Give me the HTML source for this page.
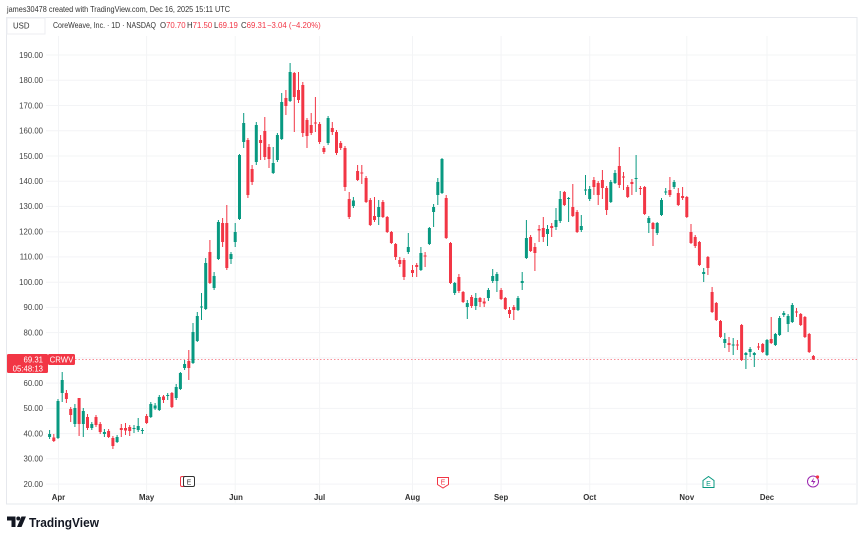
<!DOCTYPE html>
<html><head><meta charset="utf-8"><style>
html,body{margin:0;padding:0;background:#fff;}
svg{display:block;font-family:"Liberation Sans",sans-serif;}
</style></head><body>
<svg width="863" height="540" viewBox="0 0 863 540" xmlns="http://www.w3.org/2000/svg">
<rect width="863" height="540" fill="#fff"/>
<text x="7" y="12" font-size="8.2" fill="#333" textLength="223" lengthAdjust="spacingAndGlyphs">james30478 created with TradingView.com, Dec 16, 2025 15:11 UTC</text>
<rect x="6.5" y="17.5" width="850.5" height="486.5" fill="none" stroke="#e6e8ed" stroke-width="1"/>
<g stroke="#f3f4f6" stroke-width="1">
<path d="M46 55H857M46 80.2H857M46 105.5H857M46 130.7H857M46 156H857M46 181.2H857M46 206.4H857M46 231.7H857M46 256.9H857M46 282.2H857M46 307.4H857M46 332.6H857M46 357.9H857M46 383.1H857M46 408.4H857M46 433.6H857M46 458.8H857M46 484.1H857"/>
<path d="M58.5 36V504M146.6 36V504M235.2 36V504M319.6 36V504M412.5 36V504M501.1 36V504M589.7 36V504M686.8 36V504M767 36V504"/>
</g>
<rect x="7" y="18" width="38" height="16" fill="#fff" stroke="#eceef2"/>
<text x="13" y="28.5" font-size="7.8" fill="#333">USD</text>
<text x="53" y="28" font-size="7.8" fill="#333" textLength="103" lengthAdjust="spacingAndGlyphs">CoreWeave, Inc. · 1D · NASDAQ</text>
<g font-size="7.8">
<text x="160" y="28" fill="#333">O<tspan fill="#f23645">70.70</tspan></text>
<text x="187" y="28" fill="#333">H<tspan fill="#f23645">71.50</tspan></text>
<text x="214" y="28" fill="#333">L<tspan fill="#f23645">69.19</tspan></text>
<text x="241" y="28" fill="#333">C<tspan fill="#f23645">69.31</tspan></text>
<text x="267" y="28" fill="#f23645">−3.04 (−4.20%)</text>
</g>
<g font-size="7.8" fill="#444" text-anchor="end">
<text x="43" y="57.8">190.00</text><text x="43" y="83">180.00</text><text x="43" y="108.3">170.00</text><text x="43" y="133.5">160.00</text><text x="43" y="158.8">150.00</text><text x="43" y="184">140.00</text><text x="43" y="209.2">130.00</text><text x="43" y="234.5">120.00</text><text x="43" y="259.7">110.00</text><text x="43" y="285">100.00</text><text x="43" y="310.2">90.00</text><text x="43" y="335.4">80.00</text><text x="43" y="385.9">60.00</text><text x="43" y="411.2">50.00</text><text x="43" y="436.4">40.00</text><text x="43" y="461.6">30.00</text><text x="43" y="486.9">20.00</text>
</g>
<g font-size="7.8" font-weight="bold" fill="#333" text-anchor="middle">
<text x="58.5" y="500">Apr</text><text x="146.6" y="500">May</text><text x="236" y="500">Jun</text><text x="319.6" y="500">Jul</text><text x="412.5" y="500">Aug</text><text x="501.1" y="500">Sep</text><text x="589.7" y="500">Oct</text><text x="686.8" y="500">Nov</text><text x="767" y="500">Dec</text>
</g>
<path d="M75 359.5H857" stroke="#f23645" stroke-opacity="0.55" stroke-width="1" stroke-dasharray="1.5,2"/>
<g fill="none">
<path stroke="#089981" stroke-width="1" d="M49.6 430V439M58 399V439M62.2 372V402M74.9 404V427M83.3 408V437M91.8 422V430M104.4 429V437M117.1 435V443M134 425V433M138.2 418V432M142.4 428V434M150.8 402V418M155.1 403V410M159.3 395V411M167.7 393V400M176.2 384V400M180.4 372V390M184.6 360V370M193 323V364M197.3 312V342M201.5 293V320M205.7 258V310M214.1 272V290M218.4 220V260M231 252V264M235.2 223V247M239.5 154V220M243.7 113V148M256.3 122V165M273.2 147V174M277.4 133V162M281.7 93V140M290.1 63V102M328.1 116V145M353.4 197V208M378.7 200V225M408.3 233V254M420.9 247V271M429.4 227V245M433.6 204V227M437.8 178V205M442 158V194M454.7 282V295M467.3 300V319M475.8 293V310M488.4 288V301M492.7 269V283M496.9 272V292M518 296V311M522.2 272V290M526.4 220V259M547.5 225V246M556 208V230M560.2 191V223M568.6 197V222M581.3 215V232M585.5 175V195M589.7 186V201M610.8 180V203M615 170V184M636.1 155V192M648.8 216V233M657.2 222V235M661.5 198V216M665.7 188V195M674.1 180V189M703.7 268V282M724.8 333V348M733.2 338V355M745.9 352V369M750.1 347V357M754.3 352V367M767 339V356M775.4 333V346M779.6 316V336M783.8 311V317M788.1 314V332M792.3 303V323"/>
<path stroke="#089981" stroke-width="3" d="M49.6 434V437M58 401V438M62.2 380V393M74.9 408V424M83.3 411V424M91.8 424V428M104.4 432V434M117.1 437V442M134 428V429M138.2 426V430M142.4 430V431M150.8 404V417M155.1 405.5V408.5M159.3 397V410M167.7 395V396M176.2 387V398M180.4 373V389M184.6 364V368M193 332V363M197.3 316V341M201.5 306.5V307.5M205.7 263V309M214.1 276V288M218.4 222V259M231 254V259M235.2 232V242M239.5 155V219M243.7 123V142M256.3 125V162M273.2 163V173M277.4 135V160M281.7 102V139M290.1 72V101M328.1 118V143M353.4 200.5V206M378.7 207V217M408.3 247V252M420.9 253V270M429.4 228V244M433.6 207V212M437.8 182V195M442 159V193M454.7 283V293M467.3 303V307M475.8 298V306M488.4 290V298M492.7 276V281M496.9 274V281M518 298V310M522.2 281V283M526.4 238V258M547.5 229V234M556 220V227M560.2 199V221M568.6 198V199M581.3 226V230M585.5 189.5V190.5M589.7 189V199M610.8 182V202M615 173V183M636.1 178V179M648.8 218V223M657.2 223V233M661.5 200V215M665.7 191.5V192.5M674.1 182V187M703.7 272V274M724.8 339V343M733.2 344.5V345.5M745.9 353V355M750.1 349V352M754.3 353V355M767 340V355M775.4 334V345M779.6 318V335M783.8 313V315M788.1 316V324M792.3 305V322"/>
<path stroke="#f23645" stroke-width="1" d="M53.8 434V442M66.4 390V403M70.7 407V422M79.1 398V436M87.5 414V430M96 415V427M100.2 422V434M108.6 429V438M112.9 436V449M121.3 424V437M125.5 423V435M129.7 425V436M146.6 414V424M163.5 395V403M171.9 392V408M188.8 350V380M209.9 240V284M222.6 218V247M226.8 205V270M247.9 138V198M252.1 165V185M260.6 135V160M264.8 117V160M269 144V168M285.9 90V115M294.3 72V132M298.5 72V103M302.8 82V137M307 118V148M311.2 113V135M315.4 97V132M319.6 122V144M323.9 146V154M332.3 122V135M336.5 130V155M340.7 141V150M345 146V191M349.2 192V219M357.6 165V181M361.8 165V184M366.1 176V203M370.3 198V226M374.5 197V222M382.9 200V218M387.2 216V233M391.4 231V244M395.6 243V260M399.8 257V267M404 258V280M412.5 265V277M416.7 263V277M425.1 252V267M446.2 195V239M450.5 242V284M458.9 274V293M463.1 291V303M471.6 295V308M480 297V307M484.2 298V307M501.1 288V300M505.3 297V310M509.5 307V318M513.8 305V320M530.6 235V252M534.9 243V271M539.1 225V242M543.3 217V242M551.7 223V237M564.4 191V206M572.8 184V217M577.1 210V233M593.9 177V195M598.2 181V205M602.4 170V199M606.6 186V215M619.3 147V188M623.5 172V190M627.7 185V198M631.9 179V195M640.4 186V195M644.6 186V215M653 222V246M669.9 177V197M678.3 188V206M682.6 187V200M686.8 196V218M691 224V244M695.2 235V248M699.4 241V266M707.9 256V275M712.1 287V313M716.3 302V321M720.5 320V338M729 337V352M737.4 340V350M741.6 324V361M758.5 343V350M762.7 343V353M771.2 317V344M796.5 308V317M800.7 313V326M804.9 316V338M809.2 333V353M813.4 355V360"/>
<path stroke="#f23645" stroke-width="3" d="M53.8 437.5V441M66.4 393V399M70.7 409V415M79.1 398V424M87.5 417V428M96 417V425M100.2 424V432M108.6 431V437M112.9 438V446M121.3 428V430M125.5 428V430.5M129.7 427V431M146.6 416V423M163.5 396.5V400M171.9 393V407M188.8 361V368M209.9 252V283M222.6 223V242M226.8 223V268M247.9 140V195M252.1 169V182M260.6 140V143M264.8 131V157M269 147V159M285.9 98V106M294.3 73V97M298.5 90V100M302.8 85V133M307 120V136M311.2 125V133M315.4 122.5V123.5M319.6 124V142M323.9 148V152M332.3 128V132M336.5 132V153M340.7 143V148M345 148V187M349.2 199V217M357.6 171V180M361.8 172.5V173.5M366.1 178V202M370.3 200V225M374.5 216V220M382.9 202V217M387.2 217V232M391.4 232V243M395.6 244V257M399.8 260V264M404 260V277M412.5 270V273M416.7 265V267M425.1 255.5V256.5M446.2 198V238M450.5 243V283M458.9 277V291M463.1 292V302M471.6 297V306M480 298V302M484.2 301.5V303.5M501.1 290V299M505.3 298V309M509.5 310V314M513.8 307V310M530.6 237V251M534.9 247V253M539.1 229V230.5M543.3 228V237M551.7 226V228M564.4 192V205M572.8 207V216M577.1 212V232M593.9 180V187M598.2 183V195M602.4 180V188M606.6 188V210M619.3 166V185M623.5 176.5V177.5M627.7 187V197M631.9 182V184M640.4 188V189M644.6 187V214M653 223V229M669.9 190V195M678.3 193V205M682.6 196V198M686.8 197V217M691 232V243M695.2 237V246M699.4 242V265M707.9 257V268M712.1 292V312M716.3 303V320M720.5 321V337M729 343V345M737.4 344.5V345.5M741.6 325V360M758.5 346.5V347.5M762.7 344V352M771.2 339V343M796.5 311.5V312.5M800.7 314V325M804.9 317V337M809.2 334V352M813.4 356V359.5"/>
</g>
<!-- price label -->
<rect x="7" y="354" width="41" height="19" rx="1.5" fill="#f23645"/>
<rect x="48" y="354" width="27" height="11" rx="1.5" fill="#f23645"/>
<text x="43" y="362.5" font-size="7.8" fill="#fff" text-anchor="end">69.31</text>
<text x="43" y="371.5" font-size="7.8" fill="#fff" text-anchor="end">05:48:13</text>
<text x="61.5" y="362.5" font-size="7.8" fill="#fff" text-anchor="middle">CRWV</text>
<!-- event markers -->
<rect x="180.5" y="476.5" width="9" height="10" rx="1.5" fill="#fff" stroke="#f23645" stroke-width="1"/>
<rect x="183.5" y="476.5" width="11" height="10" rx="1.5" fill="#fff" stroke="#333" stroke-width="1"/>
<text x="189" y="484.5" font-size="7" fill="#333" text-anchor="middle">E</text>
<path d="M437.5 477.5h11v7l-5.5 3.5l-5.5-3.5z" fill="#fff" stroke="#f23645" stroke-width="1"/>
<text x="443" y="484.3" font-size="7" fill="#f23645" text-anchor="middle">E</text>
<path d="M703 487.5h11v-7l-5.5-4l-5.5 4z" fill="#fff" stroke="#089981" stroke-width="1"/>
<text x="708.5" y="486" font-size="7" fill="#089981" text-anchor="middle">E</text>
<circle cx="813" cy="481.5" r="5.5" fill="#fff" stroke="#9c27b0" stroke-width="1"/>
<path d="M814 477.5l-3 4.5h2.5l-1 3.5l3-4.5h-2.5z" fill="#9c27b0"/>
<circle cx="817.5" cy="477" r="1.6" fill="#f23645"/>
<!-- logo -->
<path d="M7 516.5h8.5v10.5h-4v-6.5h-4.5z" fill="#131722"/>
<circle cx="18.3" cy="518.5" r="2" fill="#131722"/>
<path d="M21.5 516.5h4.5l-4.5 10.5h-4.5z" fill="#131722"/>
<text x="29" y="527" font-size="13" font-weight="bold" fill="#131722" textLength="70" lengthAdjust="spacingAndGlyphs">TradingView</text>
</svg>
</body></html>
